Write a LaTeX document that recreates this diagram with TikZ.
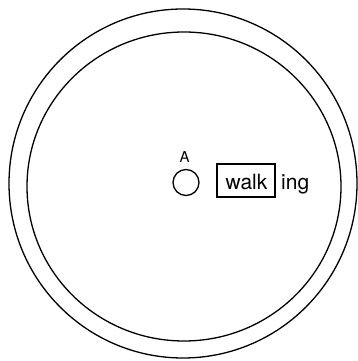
\documentclass[tikz,border=0pt]{standalone}
\usepackage{fontspec}
\setmainfont{TeX Gyre Heros}
\begin{document}
\begin{tikzpicture}[x=1pt,y=1pt,
  ring/.style={draw=black,line width=1.3pt},
  bigtext/.style={font=\fontsize{21}{21}\selectfont,inner sep=0pt},
  labtext/.style={font=\fontsize{15}{15}\selectfont,inner sep=0pt}]
\useasboundingbox (0,0) rectangle (357,361);
\draw[ring] (183,177.5) ellipse [x radius=174, y radius=174.5];
\draw[ring] (184,174.5) ellipse [x radius=157, y radius=154.5];
\node[draw=black,line width=1.3pt,circle,minimum size=26pt,inner sep=0pt] (circA) at (186,178.5) {};
\node[labtext,anchor=base] (labA) at (184.5,198) {A};
\node[draw=black,line width=1.3pt,minimum width=58pt,minimum height=33pt,inner sep=0pt] (box) at (246,180.5) {};
\node[bigtext,anchor=base] (walk) at (246.5,171) {walk};
\node[bigtext,anchor=base west] (ing) at (281,171) {ing};
\end{tikzpicture}
\end{document}
